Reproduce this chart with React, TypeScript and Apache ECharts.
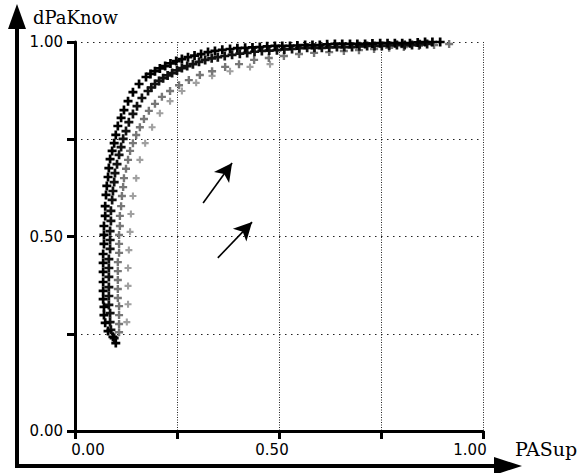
import React, { useEffect, useRef } from "react";
import * as echarts from "echarts";

// Curve points (PASup, dPaKnow) for the four bands of "+" marks
const blackOuter: number[][] = [
  [0.100, 0.226], [0.093, 0.242], [0.081, 0.257], [0.074, 0.278], [0.071, 0.298],
  [0.071, 0.319], [0.069, 0.339], [0.069, 0.360], [0.069, 0.383], [0.069, 0.409],
  [0.069, 0.432], [0.069, 0.455], [0.071, 0.481], [0.071, 0.504], [0.071, 0.527],
  [0.074, 0.553], [0.074, 0.578], [0.076, 0.607], [0.078, 0.630], [0.081, 0.653],
  [0.083, 0.676], [0.086, 0.699], [0.091, 0.720], [0.096, 0.740], [0.100, 0.761],
  [0.105, 0.784], [0.113, 0.805], [0.120, 0.825], [0.130, 0.848], [0.142, 0.871],
  [0.157, 0.892], [0.174, 0.910], [0.185, 0.918], [0.196, 0.925], [0.208, 0.932],
  [0.221, 0.938], [0.234, 0.945], [0.248, 0.951], [0.262, 0.956], [0.277, 0.961],
  [0.293, 0.965], [0.309, 0.969], [0.326, 0.974], [0.343, 0.977], [0.361, 0.980],
  [0.380, 0.982], [0.398, 0.984], [0.417, 0.985], [0.435, 0.986], [0.453, 0.987],
  [0.471, 0.989], [0.490, 0.990], [0.508, 0.990], [0.527, 0.990], [0.545, 0.991],
  [0.564, 0.992], [0.582, 0.992], [0.600, 0.992], [0.618, 0.994], [0.637, 0.995],
  [0.655, 0.995], [0.674, 0.995], [0.692, 0.995], [0.711, 0.995], [0.729, 0.996],
  [0.748, 0.997], [0.766, 0.997], [0.784, 0.997], [0.802, 0.997], [0.821, 0.997],
  [0.840, 0.999], [0.858, 1.000], [0.876, 1.000], [0.895, 1.000],
];

const blackInner: number[][] = [
  [0.096, 0.239], [0.088, 0.260], [0.086, 0.280], [0.086, 0.303], [0.083, 0.324],
  [0.083, 0.347], [0.083, 0.370], [0.083, 0.396], [0.083, 0.419], [0.083, 0.442],
  [0.086, 0.468], [0.086, 0.491], [0.086, 0.514], [0.088, 0.540], [0.088, 0.566],
  [0.091, 0.594], [0.093, 0.617], [0.096, 0.640], [0.098, 0.663], [0.103, 0.686],
  [0.108, 0.710], [0.113, 0.730], [0.118, 0.751], [0.125, 0.771], [0.132, 0.794],
  [0.142, 0.815], [0.152, 0.835], [0.164, 0.856], [0.179, 0.874], [0.187, 0.883],
  [0.196, 0.892], [0.206, 0.900], [0.216, 0.907], [0.227, 0.914], [0.238, 0.920],
  [0.250, 0.927], [0.262, 0.933], [0.275, 0.938], [0.289, 0.943], [0.304, 0.949],
  [0.319, 0.954], [0.335, 0.958], [0.350, 0.961], [0.367, 0.964], [0.385, 0.967],
  [0.404, 0.970], [0.422, 0.972], [0.440, 0.975], [0.458, 0.977], [0.476, 0.978],
  [0.495, 0.979], [0.513, 0.981], [0.532, 0.982], [0.550, 0.984], [0.569, 0.985],
  [0.587, 0.985], [0.605, 0.985], [0.623, 0.986], [0.642, 0.987], [0.660, 0.987],
  [0.679, 0.987], [0.697, 0.989], [0.716, 0.990], [0.734, 0.990], [0.752, 0.990],
  [0.770, 0.991], [0.789, 0.992], [0.808, 0.992], [0.826, 0.992], [0.845, 0.994],
  [0.863, 0.995],
];

const grayBand: number[][] = [
  [0.108, 0.254], [0.108, 0.275], [0.108, 0.298], [0.108, 0.321], [0.105, 0.342],
  [0.105, 0.365], [0.105, 0.388], [0.105, 0.411], [0.105, 0.434], [0.108, 0.458],
  [0.108, 0.481], [0.108, 0.504], [0.110, 0.527], [0.110, 0.553], [0.113, 0.578],
  [0.115, 0.604], [0.118, 0.627], [0.120, 0.650], [0.125, 0.674], [0.130, 0.697],
  [0.135, 0.720], [0.142, 0.740], [0.150, 0.761], [0.159, 0.781], [0.169, 0.802],
  [0.181, 0.823], [0.196, 0.841], [0.213, 0.859], [0.233, 0.874], [0.255, 0.889],
  [0.279, 0.902], [0.306, 0.915], [0.336, 0.925], [0.368, 0.936], [0.402, 0.943],
  [0.439, 0.954], [0.475, 0.959], [0.512, 0.964], [0.549, 0.969], [0.586, 0.972],
  [0.623, 0.974], [0.659, 0.977], [0.696, 0.979], [0.733, 0.982], [0.770, 0.985],
  [0.806, 0.987], [0.843, 0.990], [0.880, 0.992], [0.917, 0.995],
];

const lightBand: number[][] = [
  [0.127, 0.280], [0.130, 0.326], [0.130, 0.373], [0.130, 0.419], [0.132, 0.465],
  [0.135, 0.512], [0.137, 0.558], [0.142, 0.604], [0.150, 0.650], [0.159, 0.697],
  [0.172, 0.740], [0.189, 0.781], [0.208, 0.817], [0.233, 0.848], [0.262, 0.874],
  [0.297, 0.895], [0.336, 0.913], [0.380, 0.925], [0.429, 0.936], [0.478, 0.943],
];

// Annotation arrows: tail and head positions in data units
const arrowTails: number[][] = [[0.314, 0.586], [0.350, 0.445]];
const arrowHeads: number[][] = [[0.385, 0.689], [0.434, 0.537]];

const xTickLabels: Record<string, string> = { "0": "{l|0.00}", "0.5": "{m|0.50}", "1": "{r|1.00}" };
const yTickLabels: Record<string, string> = { "0": "0.00", "0.5": "0.50", "1": "1.00" };

const PLUS = "path://M2.8,0L5.2,0L5.2,2.8L8,2.8L8,5.2L5.2,5.2L5.2,8L2.8,8L2.8,5.2L0,5.2L0,2.8L2.8,2.8Z";
const tickFont = { fontFamily: "DejaVu Sans", fontSize: 15, color: "#000" };

export default function App() {
  const ref = useRef<HTMLDivElement>(null);

  useEffect(() => {
    if (!ref.current) return;
    const chart = echarts.init(ref.current, null, { renderer: "svg" });

    const markSeries = (name: string, data: number[][], color: string, size: number, z: number) => ({
      name,
      type: "scatter",
      data,
      symbol: PLUS,
      symbolSize: size,
      itemStyle: { color, opacity: 1 },
      z,
      silent: true,
    });

    const arrows = arrowTails.map((t, i) => [
      { coord: t, symbol: "none" },
      { coord: arrowHeads[i], symbol: "arrow" },
    ]);

    chart.setOption({
      animation: false,
      backgroundColor: "#fff",
      grid: { left: 75, top: 42, width: 408, height: 389 },
      xAxis: {
        type: "value",
        min: 0,
        max: 1,
        interval: 0.25,
        axisLine: { show: true, lineStyle: { color: "#000", width: 3 } },
        axisTick: { show: true, length: 8, lineStyle: { color: "#000", width: 3 } },
        axisLabel: {
          margin: 11,
          ...tickFont,
          formatter: (v: number) => xTickLabels[String(v)] ?? "",
          rich: {
            l: { ...tickFont, padding: [0, 0, 0, 26] },
            m: { ...tickFont, padding: [0, 14, 0, 0] },
            r: { ...tickFont, padding: [0, 26, 0, 0] },
          },
        },
        splitLine: { show: true, lineStyle: { color: "#222", width: 1, type: [1, 1.5] } },
      },
      yAxis: {
        type: "value",
        min: 0,
        max: 1,
        interval: 0.25,
        axisLine: { show: true, lineStyle: { color: "#000", width: 3 } },
        axisTick: { show: true, length: 8, lineStyle: { color: "#000", width: 3 } },
        axisLabel: {
          margin: 12,
          ...tickFont,
          formatter: (v: number) => yTickLabels[String(v)] ?? "",
        },
        splitLine: { show: true, lineStyle: { color: "#222", width: 1, type: [1.5, 4.5] } },
      },
      series: [
        markSeries("light", lightBand, "#a0a0a0", 7, 2),
        markSeries("gray", grayBand, "#777", 8, 3),
        markSeries("inner", blackInner, "#111", 9, 4),
        {
          ...markSeries("outer", blackOuter, "#000", 9, 5),
          markLine: {
            silent: true,
            symbolSize: [14, 18],
            label: { show: false },
            lineStyle: { color: "#000", width: 1.6, type: "solid" },
            emphasis: { disabled: true },
            data: arrows,
          },
        },
      ],
      graphic: [
        // outer frame axes with arrow heads
        { type: "line", shape: { x1: 17, y1: 468, x2: 17, y2: 24 }, style: { stroke: "#000", lineWidth: 4 } },
        { type: "polygon", shape: { points: [[17, 4], [8, 29], [26, 29]] }, style: { fill: "#000" } },
        { type: "line", shape: { x1: 15, y1: 466, x2: 500, y2: 466 }, style: { stroke: "#000", lineWidth: 4 } },
        { type: "polygon", shape: { points: [[522, 466], [494, 457], [494, 475]] }, style: { fill: "#000" } },
        {
          type: "text",
          x: 33,
          y: 17,
          style: { text: "dPaKnow", fill: "#000", font: "18px 'DejaVu Serif'", textVerticalAlign: "middle" },
        },
        {
          type: "text",
          x: 515,
          y: 449,
          style: { text: "PASup", fill: "#000", font: "19px 'DejaVu Serif'", textVerticalAlign: "middle" },
        },
      ],
    });

    return () => chart.dispose();
  }, []);

  return (
    <div
      ref={ref}
      style={{ position: "fixed", left: 0, top: 0, width: 583, height: 473, background: "#fff" }}
    />
  );
}
